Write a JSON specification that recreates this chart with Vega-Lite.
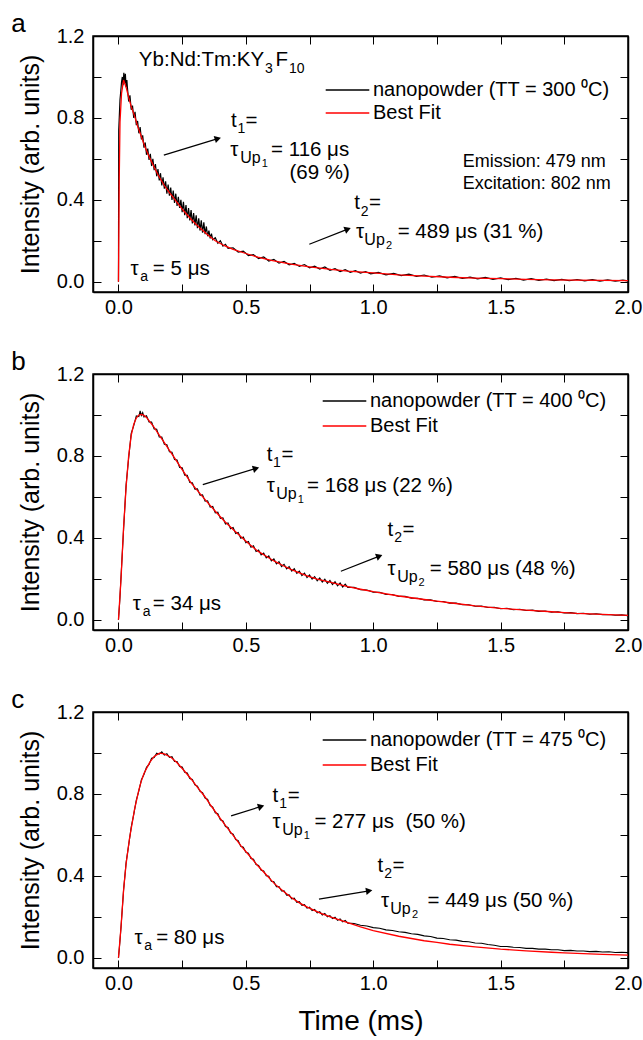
{
"$schema": "https://vega.github.io/schema/vega-lite/v6.json",
"padding": {"left": 10, "top": 10, "right": 0, "bottom": 0},
"spacing": 30,
"resolve": {"scale": {"color": "independent", "x": "independent", "y": "independent"}, "legend": {"color": "independent"}},
"config": {
  "font": "Liberation Sans",
  "view": {"stroke": "black", "strokeWidth": 1.5},
  "axis": {"grid": false, "domainColor": "black", "domainWidth": 1.5, "tickColor": "black", "tickWidth": 1, "tickSize": -8, "labelColor": "black", "labelFontSize": 20, "labelFont": "Liberation Sans", "labelFlush": false, "labelOverlap": false, "titleColor": "black", "titleFontWeight": "normal", "titleFont": "Liberation Sans"},
  "legend": {"symbolType": "stroke", "symbolSize": 1900, "symbolStrokeWidth": 1.3, "labelFontSize": 20, "labelFont": "Liberation Sans", "labelColor": "black", "clipHeight": 22, "rowPadding": 2, "labelOffset": 3, "padding": 0, "labelLimit": 400},
  "title": {"fontSize": 26, "fontWeight": "normal", "anchor": "start", "frame": "bounds", "color": "black", "font": "Liberation Sans", "dx": -7, "offset": -11},
  "text": {"font": "Liberation Sans", "color": "black"}
},
"datasets": {
  "aMeasured": [
{"time":0,"intensity":0},{"time":0.001,"intensity":0.74},{"time":0.003,"intensity":0.8},{"time":0.006,"intensity":0.89},{"time":0.009,"intensity":0.93},{"time":0.012,"intensity":0.975},{"time":0.015,"intensity":1.0},{"time":0.018,"intensity":0.96},{"time":0.021,"intensity":1.02},{"time":0.024,"intensity":0.97},{"time":0.027,"intensity":1.015},{"time":0.03,"intensity":0.95},{"time":0.033,"intensity":0.985},{"time":0.035,"intensity":0.95},
{"time":0.04,"intensity":0.88},{"time":0.045,"intensity":0.91},{"time":0.05,"intensity":0.84},{"time":0.055,"intensity":0.86},{"time":0.06,"intensity":0.8},{"time":0.065,"intensity":0.83},{"time":0.07,"intensity":0.765},{"time":0.075,"intensity":0.785},{"time":0.08,"intensity":0.725},{"time":0.085,"intensity":0.755},{"time":0.09,"intensity":0.695},{"time":0.095,"intensity":0.715},{"time":0.1,"intensity":0.655},{"time":0.105,"intensity":0.68},{"time":0.11,"intensity":0.62},{"time":0.115,"intensity":0.65},{"time":0.12,"intensity":0.595},{"time":0.125,"intensity":0.625},{"time":0.13,"intensity":0.565},{"time":0.135,"intensity":0.6},{"time":0.14,"intensity":0.545},{"time":0.145,"intensity":0.575},{"time":0.15,"intensity":0.515},{"time":0.155,"intensity":0.55},{"time":0.16,"intensity":0.495},{"time":0.165,"intensity":0.53},{"time":0.17,"intensity":0.47},{"time":0.175,"intensity":0.51},{"time":0.18,"intensity":0.455},{"time":0.185,"intensity":0.49},{"time":0.19,"intensity":0.43},{"time":0.195,"intensity":0.475},{"time":0.2,"intensity":0.42},{"time":0.205,"intensity":0.46},{"time":0.21,"intensity":0.4},{"time":0.215,"intensity":0.445},{"time":0.22,"intensity":0.385},{"time":0.225,"intensity":0.43},{"time":0.23,"intensity":0.37},{"time":0.235,"intensity":0.415},{"time":0.24,"intensity":0.36},{"time":0.245,"intensity":0.4},{"time":0.25,"intensity":0.34},{"time":0.255,"intensity":0.39},{"time":0.26,"intensity":0.325},{"time":0.265,"intensity":0.375},{"time":0.27,"intensity":0.31},{"time":0.275,"intensity":0.36},{"time":0.28,"intensity":0.3},{"time":0.285,"intensity":0.35},{"time":0.29,"intensity":0.285},{"time":0.295,"intensity":0.335},{"time":0.3,"intensity":0.275},{"time":0.305,"intensity":0.325},{"time":0.31,"intensity":0.262},{"time":0.315,"intensity":0.31},{"time":0.32,"intensity":0.25},{"time":0.325,"intensity":0.3},{"time":0.33,"intensity":0.24},{"time":0.335,"intensity":0.29},{"time":0.34,"intensity":0.232},{"time":0.345,"intensity":0.27},{"time":0.35,"intensity":0.222},{"time":0.355,"intensity":0.25},{"time":0.36,"intensity":0.212},{"time":0.365,"intensity":0.235},{"time":0.37,"intensity":0.205},
{"time":0.38,"intensity":0.215},{"time":0.39,"intensity":0.188},{"time":0.4,"intensity":0.2},{"time":0.41,"intensity":0.174},{"time":0.42,"intensity":0.183},{"time":0.43,"intensity":0.163},{"time":0.45,"intensity":0.166},{"time":0.47,"intensity":0.145},{"time":0.49,"intensity":0.15},{"time":0.51,"intensity":0.128},{"time":0.53,"intensity":0.132},{"time":0.55,"intensity":0.113},{"time":0.57,"intensity":0.121},{"time":0.59,"intensity":0.101},{"time":0.61,"intensity":0.109},{"time":0.63,"intensity":0.091},{"time":0.65,"intensity":0.099},{"time":0.67,"intensity":0.083},{"time":0.69,"intensity":0.09},{"time":0.71,"intensity":0.075},{"time":0.73,"intensity":0.084},{"time":0.75,"intensity":0.068},{"time":0.77,"intensity":0.076},{"time":0.79,"intensity":0.062},{"time":0.81,"intensity":0.072},{"time":0.83,"intensity":0.056},{"time":0.85,"intensity":0.064},{"time":0.87,"intensity":0.05},{"time":0.89,"intensity":0.059},{"time":0.91,"intensity":0.046},{"time":0.93,"intensity":0.054},{"time":0.95,"intensity":0.042},{"time":0.97,"intensity":0.05},{"time":0.99,"intensity":0.039},{"time":1.02,"intensity":0.046},{"time":1.05,"intensity":0.034},{"time":1.08,"intensity":0.041},{"time":1.11,"intensity":0.03},{"time":1.14,"intensity":0.037},{"time":1.17,"intensity":0.026},{"time":1.2,"intensity":0.033},{"time":1.23,"intensity":0.022},{"time":1.26,"intensity":0.029},{"time":1.29,"intensity":0.019},{"time":1.32,"intensity":0.026},{"time":1.35,"intensity":0.016},{"time":1.38,"intensity":0.023},{"time":1.41,"intensity":0.014},{"time":1.44,"intensity":0.021},{"time":1.47,"intensity":0.012},{"time":1.5,"intensity":0.019},{"time":1.53,"intensity":0.01},{"time":1.56,"intensity":0.017},{"time":1.59,"intensity":0.008},{"time":1.62,"intensity":0.015},{"time":1.65,"intensity":0.007},{"time":1.68,"intensity":0.013},{"time":1.71,"intensity":0.006},{"time":1.74,"intensity":0.012},{"time":1.77,"intensity":0.005},{"time":1.8,"intensity":0.011},{"time":1.83,"intensity":0.004},{"time":1.86,"intensity":0.01},{"time":1.89,"intensity":0.003},{"time":1.92,"intensity":0.009},{"time":1.95,"intensity":0.003},{"time":1.98,"intensity":0.008},{"time":2.0,"intensity":0.004}
  ],
  "aFit": [
{"time":0,"intensity":0},{"time":0.003,"intensity":0.5},{"time":0.006,"intensity":0.78},{"time":0.012,"intensity":0.92},{"time":0.02,"intensity":0.985},{"time":0.03,"intensity":0.95},{"time":0.04,"intensity":0.9},{"time":0.05,"intensity":0.855},{"time":0.063,"intensity":0.81},{"time":0.075,"intensity":0.76},{"time":0.089,"intensity":0.712},{"time":0.105,"intensity":0.655},{"time":0.122,"intensity":0.606},{"time":0.14,"intensity":0.56},{"time":0.154,"intensity":0.525},{"time":0.18,"intensity":0.47},{"time":0.2,"intensity":0.435},{"time":0.22,"intensity":0.403},{"time":0.25,"intensity":0.355},{"time":0.285,"intensity":0.305},{"time":0.32,"intensity":0.262},{"time":0.351,"intensity":0.228},{"time":0.38,"intensity":0.2},{"time":0.416,"intensity":0.176},{"time":0.45,"intensity":0.158},{"time":0.5,"intensity":0.138},{"time":0.547,"intensity":0.12},{"time":0.6,"intensity":0.104},{"time":0.677,"intensity":0.086},{"time":0.75,"intensity":0.073},{"time":0.834,"intensity":0.06},{"time":0.9,"intensity":0.052},{"time":1.0,"intensity":0.043},{"time":1.1,"intensity":0.034},{"time":1.2,"intensity":0.028},{"time":1.3,"intensity":0.022},{"time":1.4,"intensity":0.018},{"time":1.5,"intensity":0.015},{"time":1.6,"intensity":0.012},{"time":1.7,"intensity":0.0095},{"time":1.8,"intensity":0.0078},{"time":1.9,"intensity":0.0063},{"time":2.0,"intensity":0.0052}
  ],
  "bMeasured": [
{"time":0,"intensity":0},{"time":0.005,"intensity":0.09},{"time":0.01,"intensity":0.21},{"time":0.02,"intensity":0.44},{"time":0.03,"intensity":0.66},{"time":0.04,"intensity":0.79},{"time":0.05,"intensity":0.91},{"time":0.06,"intensity":0.948},{"time":0.07,"intensity":0.995},{"time":0.08,"intensity":0.992},{"time":0.085,"intensity":1.02},{"time":0.09,"intensity":0.998},{"time":0.095,"intensity":1.012},{"time":0.1,"intensity":0.99},{"time":0.11,"intensity":0.996},{"time":0.12,"intensity":0.966},{"time":0.13,"intensity":0.965},{"time":0.14,"intensity":0.932},{"time":0.15,"intensity":0.93},{"time":0.16,"intensity":0.893},{"time":0.17,"intensity":0.892},{"time":0.18,"intensity":0.857},{"time":0.19,"intensity":0.855},{"time":0.2,"intensity":0.82},{"time":0.21,"intensity":0.818},{"time":0.22,"intensity":0.782},{"time":0.23,"intensity":0.78},{"time":0.24,"intensity":0.744},{"time":0.25,"intensity":0.742},{"time":0.26,"intensity":0.706},{"time":0.27,"intensity":0.705},{"time":0.28,"intensity":0.67},{"time":0.29,"intensity":0.669},{"time":0.3,"intensity":0.638},{"time":0.31,"intensity":0.639},{"time":0.32,"intensity":0.608},{"time":0.33,"intensity":0.61},{"time":0.34,"intensity":0.579},{"time":0.35,"intensity":0.581},{"time":0.36,"intensity":0.55},{"time":0.37,"intensity":0.553},{"time":0.38,"intensity":0.522},{"time":0.39,"intensity":0.525},{"time":0.4,"intensity":0.495},{"time":0.41,"intensity":0.498},{"time":0.42,"intensity":0.468},{"time":0.43,"intensity":0.473},{"time":0.44,"intensity":0.444},{"time":0.45,"intensity":0.45},{"time":0.46,"intensity":0.421},{"time":0.47,"intensity":0.426},{"time":0.48,"intensity":0.398},{"time":0.49,"intensity":0.404},{"time":0.5,"intensity":0.376},{"time":0.51,"intensity":0.382},{"time":0.52,"intensity":0.354},{"time":0.53,"intensity":0.361},{"time":0.54,"intensity":0.334},{"time":0.55,"intensity":0.341},{"time":0.56,"intensity":0.317},{"time":0.57,"intensity":0.326},{"time":0.58,"intensity":0.302},{"time":0.59,"intensity":0.312},{"time":0.6,"intensity":0.287},{"time":0.61,"intensity":0.297},{"time":0.62,"intensity":0.273},{"time":0.63,"intensity":0.284},{"time":0.64,"intensity":0.26},{"time":0.65,"intensity":0.271},{"time":0.66,"intensity":0.249},{"time":0.67,"intensity":0.26},{"time":0.68,"intensity":0.237},{"time":0.69,"intensity":0.249},{"time":0.7,"intensity":0.226},{"time":0.71,"intensity":0.238},{"time":0.72,"intensity":0.216},{"time":0.73,"intensity":0.228},{"time":0.74,"intensity":0.206},{"time":0.75,"intensity":0.219},{"time":0.76,"intensity":0.198},{"time":0.77,"intensity":0.211},{"time":0.78,"intensity":0.19},{"time":0.79,"intensity":0.204},{"time":0.8,"intensity":0.184},{"time":0.81,"intensity":0.198},{"time":0.82,"intensity":0.178},{"time":0.83,"intensity":0.192},{"time":0.84,"intensity":0.172},{"time":0.85,"intensity":0.186},{"time":0.86,"intensity":0.166},{"time":0.87,"intensity":0.18},{"time":0.88,"intensity":0.16},{"time":0.89,"intensity":0.174},{"time":0.9,"intensity":0.158},
{"time":0.925,"intensity":0.158},{"time":0.95,"intensity":0.147},{"time":0.975,"intensity":0.145},{"time":1.0,"intensity":0.135},{"time":1.025,"intensity":0.134},{"time":1.05,"intensity":0.124},{"time":1.075,"intensity":0.123},{"time":1.1,"intensity":0.114},{"time":1.125,"intensity":0.114},{"time":1.15,"intensity":0.105},{"time":1.175,"intensity":0.105},{"time":1.2,"intensity":0.097},{"time":1.225,"intensity":0.097},{"time":1.25,"intensity":0.089},{"time":1.275,"intensity":0.089},{"time":1.3,"intensity":0.081},{"time":1.325,"intensity":0.081},{"time":1.35,"intensity":0.073},{"time":1.375,"intensity":0.073},{"time":1.4,"intensity":0.066},{"time":1.425,"intensity":0.067},{"time":1.45,"intensity":0.06},{"time":1.475,"intensity":0.061},{"time":1.5,"intensity":0.054},{"time":1.525,"intensity":0.056},{"time":1.55,"intensity":0.049},{"time":1.575,"intensity":0.051},{"time":1.6,"intensity":0.045},{"time":1.625,"intensity":0.047},{"time":1.65,"intensity":0.041},{"time":1.675,"intensity":0.043},{"time":1.7,"intensity":0.037},{"time":1.725,"intensity":0.039},{"time":1.75,"intensity":0.033},{"time":1.775,"intensity":0.035},{"time":1.8,"intensity":0.03},{"time":1.825,"intensity":0.032},{"time":1.85,"intensity":0.027},{"time":1.875,"intensity":0.029},{"time":1.9,"intensity":0.025},{"time":1.925,"intensity":0.026},{"time":1.95,"intensity":0.022},{"time":1.975,"intensity":0.024},{"time":2.0,"intensity":0.02}
  ],
  "bFit": [
{"time":0,"intensity":0},{"time":0.01,"intensity":0.2},{"time":0.02,"intensity":0.45},{"time":0.03,"intensity":0.65},{"time":0.04,"intensity":0.8},{"time":0.05,"intensity":0.9},{"time":0.06,"intensity":0.955},{"time":0.07,"intensity":0.985},{"time":0.08,"intensity":1.0},{"time":0.09,"intensity":1.003},{"time":0.1,"intensity":0.998},{"time":0.11,"intensity":0.988},{"time":0.122,"intensity":0.969},{"time":0.14,"intensity":0.94},{"time":0.154,"intensity":0.912},{"time":0.18,"intensity":0.865},{"time":0.2,"intensity":0.827},{"time":0.22,"intensity":0.79},{"time":0.25,"intensity":0.733},{"time":0.285,"intensity":0.668},{"time":0.32,"intensity":0.616},{"time":0.351,"intensity":0.571},{"time":0.38,"intensity":0.53},{"time":0.416,"intensity":0.481},{"time":0.45,"intensity":0.441},{"time":0.481,"intensity":0.405},{"time":0.515,"intensity":0.368},{"time":0.547,"intensity":0.335},{"time":0.58,"intensity":0.31},{"time":0.612,"intensity":0.286},{"time":0.645,"intensity":0.265},{"time":0.677,"intensity":0.246},{"time":0.71,"intensity":0.229},{"time":0.743,"intensity":0.213},{"time":0.78,"intensity":0.198},{"time":0.834,"intensity":0.182},{"time":0.9,"intensity":0.162},{"time":0.95,"intensity":0.149},{"time":1.0,"intensity":0.137},{"time":1.1,"intensity":0.116},{"time":1.2,"intensity":0.099},{"time":1.25,"intensity":0.091},{"time":1.3,"intensity":0.083},{"time":1.4,"intensity":0.068},{"time":1.5,"intensity":0.056},{"time":1.6,"intensity":0.047},{"time":1.7,"intensity":0.039},{"time":1.75,"intensity":0.035},{"time":1.8,"intensity":0.031},{"time":1.9,"intensity":0.026},{"time":2.0,"intensity":0.021}
  ],
  "cMeasured": [
{"time":0,"intensity":0},{"time":0.005,"intensity":0.07},{"time":0.01,"intensity":0.15},{"time":0.02,"intensity":0.33},{"time":0.03,"intensity":0.465},{"time":0.04,"intensity":0.55},{"time":0.05,"intensity":0.638},{"time":0.06,"intensity":0.7},{"time":0.07,"intensity":0.77},{"time":0.08,"intensity":0.815},{"time":0.09,"intensity":0.869},{"time":0.1,"intensity":0.895},{"time":0.11,"intensity":0.93},{"time":0.12,"intensity":0.944},{"time":0.13,"intensity":0.974},{"time":0.14,"intensity":0.978},{"time":0.15,"intensity":0.999},{"time":0.16,"intensity":0.994},{"time":0.17,"intensity":1.006},{"time":0.18,"intensity":0.99},{"time":0.19,"intensity":0.996},{"time":0.2,"intensity":0.978},{"time":0.21,"intensity":0.982},{"time":0.22,"intensity":0.958},{"time":0.23,"intensity":0.958},{"time":0.24,"intensity":0.934},{"time":0.25,"intensity":0.931},{"time":0.26,"intensity":0.906},{"time":0.27,"intensity":0.902},{"time":0.28,"intensity":0.875},{"time":0.29,"intensity":0.871},{"time":0.3,"intensity":0.844},{"time":0.31,"intensity":0.838},{"time":0.32,"intensity":0.812},{"time":0.33,"intensity":0.806},{"time":0.34,"intensity":0.78},{"time":0.35,"intensity":0.773},{"time":0.36,"intensity":0.743},{"time":0.37,"intensity":0.736},{"time":0.38,"intensity":0.708},{"time":0.39,"intensity":0.703},{"time":0.4,"intensity":0.674},{"time":0.41,"intensity":0.668},{"time":0.42,"intensity":0.641},{"time":0.43,"intensity":0.636},{"time":0.44,"intensity":0.609},{"time":0.45,"intensity":0.604},{"time":0.46,"intensity":0.577},{"time":0.47,"intensity":0.572},{"time":0.48,"intensity":0.544},{"time":0.49,"intensity":0.54},{"time":0.5,"intensity":0.515},{"time":0.51,"intensity":0.511},{"time":0.52,"intensity":0.485},{"time":0.53,"intensity":0.481},{"time":0.54,"intensity":0.455},{"time":0.55,"intensity":0.451},{"time":0.56,"intensity":0.427},{"time":0.57,"intensity":0.424},{"time":0.58,"intensity":0.4},{"time":0.59,"intensity":0.398},{"time":0.6,"intensity":0.373},{"time":0.61,"intensity":0.371},{"time":0.62,"intensity":0.347},{"time":0.63,"intensity":0.348},{"time":0.64,"intensity":0.326},{"time":0.65,"intensity":0.327},{"time":0.66,"intensity":0.306},{"time":0.67,"intensity":0.307},{"time":0.68,"intensity":0.288},{"time":0.69,"intensity":0.291},{"time":0.7,"intensity":0.271},{"time":0.71,"intensity":0.274},{"time":0.72,"intensity":0.256},{"time":0.73,"intensity":0.259},{"time":0.74,"intensity":0.242},{"time":0.75,"intensity":0.247},{"time":0.76,"intensity":0.23},{"time":0.77,"intensity":0.236},{"time":0.78,"intensity":0.219},{"time":0.79,"intensity":0.225},{"time":0.8,"intensity":0.209},{"time":0.81,"intensity":0.216},{"time":0.82,"intensity":0.2},{"time":0.83,"intensity":0.206},{"time":0.84,"intensity":0.191},{"time":0.85,"intensity":0.198},{"time":0.86,"intensity":0.183},{"time":0.87,"intensity":0.19},{"time":0.88,"intensity":0.175},{"time":0.89,"intensity":0.182},{"time":0.9,"intensity":0.169},
{"time":0.925,"intensity":0.167},{"time":0.95,"intensity":0.159},{"time":0.975,"intensity":0.155},{"time":1.0,"intensity":0.147},{"time":1.025,"intensity":0.144},{"time":1.05,"intensity":0.136},{"time":1.075,"intensity":0.133},{"time":1.1,"intensity":0.127},{"time":1.125,"intensity":0.124},{"time":1.15,"intensity":0.117},{"time":1.175,"intensity":0.114},{"time":1.2,"intensity":0.107},{"time":1.225,"intensity":0.104},{"time":1.25,"intensity":0.096},{"time":1.275,"intensity":0.094},{"time":1.3,"intensity":0.088},{"time":1.325,"intensity":0.086},{"time":1.35,"intensity":0.08},{"time":1.375,"intensity":0.078},{"time":1.4,"intensity":0.072},{"time":1.425,"intensity":0.071},{"time":1.45,"intensity":0.065},{"time":1.475,"intensity":0.061},{"time":1.5,"intensity":0.055},{"time":1.525,"intensity":0.055},{"time":1.55,"intensity":0.051},{"time":1.575,"intensity":0.05},{"time":1.6,"intensity":0.046},{"time":1.625,"intensity":0.046},{"time":1.65,"intensity":0.042},{"time":1.675,"intensity":0.042},{"time":1.7,"intensity":0.039},{"time":1.725,"intensity":0.039},{"time":1.75,"intensity":0.035},{"time":1.775,"intensity":0.036},{"time":1.8,"intensity":0.033},{"time":1.825,"intensity":0.033},{"time":1.85,"intensity":0.03},{"time":1.875,"intensity":0.031},{"time":1.9,"intensity":0.028},{"time":1.925,"intensity":0.029},{"time":1.95,"intensity":0.026},{"time":1.975,"intensity":0.027},{"time":2.0,"intensity":0.025}
  ],
  "cFit": [
{"time":0,"intensity":0},{"time":0.01,"intensity":0.15},{"time":0.02,"intensity":0.33},{"time":0.03,"intensity":0.46},{"time":0.043,"intensity":0.58},{"time":0.063,"intensity":0.725},{"time":0.08,"intensity":0.82},{"time":0.089,"intensity":0.86},{"time":0.1,"intensity":0.9},{"time":0.122,"intensity":0.953},{"time":0.14,"intensity":0.983},{"time":0.161,"intensity":0.999},{"time":0.18,"intensity":0.995},{"time":0.207,"intensity":0.978},{"time":0.23,"intensity":0.952},{"time":0.259,"intensity":0.912},{"time":0.285,"intensity":0.873},{"time":0.311,"intensity":0.831},{"time":0.34,"intensity":0.785},{"time":0.364,"intensity":0.741},{"time":0.39,"intensity":0.697},{"time":0.416,"intensity":0.652},{"time":0.45,"intensity":0.598},{"time":0.481,"intensity":0.546},{"time":0.515,"intensity":0.497},{"time":0.547,"intensity":0.449},{"time":0.58,"intensity":0.405},{"time":0.612,"intensity":0.362},{"time":0.645,"intensity":0.327},{"time":0.677,"intensity":0.295},{"time":0.71,"intensity":0.268},{"time":0.743,"intensity":0.246},{"time":0.79,"intensity":0.219},{"time":0.834,"intensity":0.198},{"time":0.9,"intensity":0.172},{"time":0.95,"intensity":0.151},{"time":1.0,"intensity":0.132},{"time":1.1,"intensity":0.105},{"time":1.2,"intensity":0.083},{"time":1.25,"intensity":0.075},{"time":1.3,"intensity":0.066},{"time":1.4,"intensity":0.053},{"time":1.5,"intensity":0.042},{"time":1.6,"intensity":0.034},{"time":1.7,"intensity":0.027},{"time":1.75,"intensity":0.024},{"time":1.8,"intensity":0.021},{"time":1.9,"intensity":0.017},{"time":2.0,"intensity":0.013}
  ],
  "texts": [
{"panel":"a","x":0.08,"y":1.054,"text":"Yb:Nd:Tm:KY"},
{"panel":"a","x":0.616,"y":1.054,"text":"F"},
{"panel":"a","x":0.442,"y":0.756,"text":"t"},
{"panel":"a","x":0.499,"y":0.756,"text":"="},
{"panel":"a","x":0.439,"y":0.615,"text":"τ"},
{"panel":"a","x":0.599,"y":0.615,"text":"= 116 μs"},
{"panel":"a","x":0.671,"y":0.501,"text":"(69 %)"},
{"panel":"a","x":0.925,"y":0.354,"text":"t"},
{"panel":"a","x":0.983,"y":0.354,"text":"="},
{"panel":"a","x":0.932,"y":0.214,"text":"τ"},
{"panel":"a","x":1.096,"y":0.214,"text":"= 489 μs (31 %)"},
{"panel":"a","x":0.047,"y":0.033,"text":"τ"},
{"panel":"a","x":0.135,"y":0.033,"text":"= 5 μs"},
{"panel":"b","x":0.582,"y":0.774,"text":"t"},
{"panel":"b","x":0.64,"y":0.774,"text":"="},
{"panel":"b","x":0.582,"y":0.623,"text":"τ"},
{"panel":"b","x":0.74,"y":0.623,"text":"= 168 μs (22 %)"},
{"panel":"b","x":1.056,"y":0.408,"text":"t"},
{"panel":"b","x":1.115,"y":0.408,"text":"="},
{"panel":"b","x":1.056,"y":0.218,"text":"τ"},
{"panel":"b","x":1.222,"y":0.218,"text":"= 580 μs (48 %)"},
{"panel":"b","x":0.056,"y":0.047,"text":"τ"},
{"panel":"b","x":0.135,"y":0.047,"text":"= 34 μs"},
{"panel":"c","x":0.605,"y":0.76,"text":"t"},
{"panel":"c","x":0.664,"y":0.76,"text":"="},
{"panel":"c","x":0.605,"y":0.633,"text":"τ"},
{"panel":"c","x":0.769,"y":0.633,"text":"= 277 μs \u00a0(50 %)"},
{"panel":"c","x":1.017,"y":0.417,"text":"t"},
{"panel":"c","x":1.076,"y":0.417,"text":"="},
{"panel":"c","x":1.03,"y":0.247,"text":"τ"},
{"panel":"c","x":1.213,"y":0.247,"text":"= 449 μs (50 %)"},
{"panel":"c","x":0.063,"y":0.067,"text":"τ"},
{"panel":"c","x":0.148,"y":0.067,"text":"= 80 μs"}
  ],
  "subs": [
{"panel":"a","x":0.575,"y":1.021,"text":"3"},
{"panel":"a","x":0.669,"y":1.021,"text":"10"},
{"panel":"a","x":0.467,"y":0.726,"text":"1"},
{"panel":"a","x":0.951,"y":0.323,"text":"2"},
{"panel":"a","x":0.085,"y":0.006,"text":"a"},
{"panel":"b","x":0.607,"y":0.745,"text":"1"},
{"panel":"b","x":1.082,"y":0.379,"text":"2"},
{"panel":"b","x":0.095,"y":0.018,"text":"a"},
{"panel":"c","x":0.631,"y":0.73,"text":"1"},
{"panel":"c","x":1.043,"y":0.388,"text":"2"},
{"panel":"c","x":0.101,"y":0.038,"text":"a"}
  ],
  "ups": [
{"panel":"a","x":0.478,"y":0.58,"text":"Up"},
{"panel":"a","x":0.965,"y":0.179,"text":"Up"},
{"panel":"b","x":0.619,"y":0.589,"text":"Up"},
{"panel":"b","x":1.094,"y":0.184,"text":"Up"},
{"panel":"c","x":0.643,"y":0.599,"text":"Up"},
{"panel":"c","x":1.067,"y":0.213,"text":"Up"}
  ],
  "subsubs": [
{"panel":"a","x":0.562,"y":0.561,"text":"1"},
{"panel":"a","x":1.05,"y":0.16,"text":"2"},
{"panel":"b","x":0.704,"y":0.569,"text":"1"},
{"panel":"b","x":1.178,"y":0.164,"text":"2"},
{"panel":"c","x":0.727,"y":0.58,"text":"1"},
{"panel":"c","x":1.152,"y":0.194,"text":"2"}
  ],
  "notes": [
{"panel":"a","x":1.351,"y":0.558,"text":"Emission: 479 nm"},
{"panel":"a","x":1.351,"y":0.452,"text":"Excitation: 802 nm"}
  ],
  "arrows": [
{"panel":"a","x":0.178,"y":0.618,"x2":0.39,"y2":0.699},
{"panel":"a","x":0.749,"y":0.183,"x2":0.9,"y2":0.257},
{"panel":"b","x":0.331,"y":0.66,"x2":0.54,"y2":0.739},
{"panel":"b","x":0.873,"y":0.237,"x2":1.024,"y2":0.311},
{"panel":"c","x":0.442,"y":0.693,"x2":0.56,"y2":0.739},
{"panel":"c","x":0.787,"y":0.286,"x2":0.984,"y2":0.327}
  ]
},
"vconcat": [
{
  "width": 535, "height": 256,
  "title": {"text": "a"},
  "layer": [
    {"data": {"name": "aMeasured"}, "mark": {"type": "line", "strokeWidth": 1.2},
     "encoding": {
       "x": {"field": "time", "type": "quantitative", "scale": {"domain": [-0.1, 2], "nice": false, "zero": false},
             "axis": {"orient": "bottom", "values": [0,0.25,0.5,0.75,1,1.25,1.5,1.75,2], "labelExpr": "datum.value % 0.5 == 0 ? format(datum.value, '.1f') : ''", "labelPadding": 13, "title": null}},
       "y": {"field": "intensity", "type": "quantitative", "scale": {"domain": [-0.05, 1.2], "nice": false, "zero": false},
             "axis": {"orient": "left", "values": [0,0.2,0.4,0.6,0.8,1,1.2], "labelExpr": "round(datum.value*10) % 4 == 0 ? format(datum.value, '.1f') : ''", "labelPadding": 17, "title": "Intensity (arb. units)", "titleFontSize": 25, "titlePadding": 13}},
       "color": {"datum": "measured", "scale": {"domain": ["measured", "fit"], "range": ["#000000", "#ff0000"]},
                 "legend": {"orient": "none", "legendX": 232, "legendY": 43, "title": null, "rowPadding": 1, "labelExpr": "datum.label == 'measured' ? 'nanopowder (TT = 300 ⁰C)' : 'Best Fit'"}}
     }},
    {"data": {"name": "aFit"}, "mark": {"type": "line", "strokeWidth": 1.3},
     "encoding": {"x": {"field": "time", "type": "quantitative", "axis": null}, "y": {"field": "intensity", "type": "quantitative", "axis": null}, "color": {"datum": "fit"}}},
    {"data": {"name": "arrows"}, "transform": [{"filter": "datum.panel == 'a'"}], "mark": {"type": "rule", "color": "black", "strokeWidth": 1.2},
     "encoding": {
       "x": {"field": "x", "type": "quantitative", "axis": {"orient": "top", "values": [0,0.25,0.5,0.75,1,1.25,1.5,1.75,2], "labels": false, "title": null}},
       "y": {"field": "y", "type": "quantitative", "axis": {"orient": "right", "values": [0,0.2,0.4,0.6,0.8,1,1.2], "labels": false, "title": null}},
       "x2": {"field": "x2"}, "y2": {"field": "y2"}}},
    {"data": {"name": "arrows"}, "transform": [{"filter": "datum.panel == 'a'"}, {"calculate": "atan2(-(datum.y2 - datum.y) * 205, (datum.x2 - datum.x) * 255) * 180 / PI", "as": "angle"}],
     "mark": {"type": "point", "shape": "triangle-right", "filled": true, "color": "black", "size": 55, "opacity": 1},
     "encoding": {"x": {"field": "x2", "type": "quantitative", "axis": null}, "y": {"field": "y2", "type": "quantitative", "axis": null}, "angle": {"field": "angle", "type": "quantitative", "scale": null}}},
    {"data": {"name": "texts"}, "transform": [{"filter": "datum.panel == 'a'"}], "mark": {"type": "text", "align": "left", "baseline": "alphabetic", "fontSize": 20.5},
     "encoding": {"x": {"field": "x", "type": "quantitative", "axis": null}, "y": {"field": "y", "type": "quantitative", "axis": null}, "text": {"field": "text"}}},
    {"data": {"name": "subs"}, "transform": [{"filter": "datum.panel == 'a'"}], "mark": {"type": "text", "align": "left", "baseline": "alphabetic", "fontSize": 14},
     "encoding": {"x": {"field": "x", "type": "quantitative", "axis": null}, "y": {"field": "y", "type": "quantitative", "axis": null}, "text": {"field": "text"}}},
    {"data": {"name": "ups"}, "transform": [{"filter": "datum.panel == 'a'"}], "mark": {"type": "text", "align": "left", "baseline": "alphabetic", "fontSize": 16},
     "encoding": {"x": {"field": "x", "type": "quantitative", "axis": null}, "y": {"field": "y", "type": "quantitative", "axis": null}, "text": {"field": "text"}}},
    {"data": {"name": "subsubs"}, "transform": [{"filter": "datum.panel == 'a'"}], "mark": {"type": "text", "align": "left", "baseline": "alphabetic", "fontSize": 11},
     "encoding": {"x": {"field": "x", "type": "quantitative", "axis": null}, "y": {"field": "y", "type": "quantitative", "axis": null}, "text": {"field": "text"}}},
    {"data": {"name": "notes"}, "transform": [{"filter": "datum.panel == 'a'"}], "mark": {"type": "text", "align": "left", "baseline": "alphabetic", "fontSize": 18},
     "encoding": {"x": {"field": "x", "type": "quantitative", "axis": null}, "y": {"field": "y", "type": "quantitative", "axis": null}, "text": {"field": "text"}}}
  ]
},
{
  "width": 535, "height": 256,
  "title": {"text": "b"},
  "layer": [
    {"data": {"name": "bMeasured"}, "mark": {"type": "line", "strokeWidth": 1.1},
     "encoding": {
       "x": {"field": "time", "type": "quantitative", "scale": {"domain": [-0.1, 2], "nice": false, "zero": false},
             "axis": {"orient": "bottom", "values": [0,0.25,0.5,0.75,1,1.25,1.5,1.75,2], "labelExpr": "datum.value % 0.5 == 0 ? format(datum.value, '.1f') : ''", "labelPadding": 13, "title": null}},
       "y": {"field": "intensity", "type": "quantitative", "scale": {"domain": [-0.05, 1.2], "nice": false, "zero": false},
             "axis": {"orient": "left", "values": [0,0.2,0.4,0.6,0.8,1,1.2], "labelExpr": "round(datum.value*10) % 4 == 0 ? format(datum.value, '.1f') : ''", "labelPadding": 17, "title": "Intensity (arb. units)", "titleFontSize": 25, "titlePadding": 13}},
       "color": {"datum": "measured", "scale": {"domain": ["measured", "fit"], "range": ["#000000", "#ff0000"]},
                 "legend": {"orient": "none", "legendX": 229, "legendY": 16, "title": null, "rowPadding": 3, "labelExpr": "datum.label == 'measured' ? 'nanopowder (TT = 400 ⁰C)' : 'Best Fit'"}}
     }},
    {"data": {"name": "bFit"}, "mark": {"type": "line", "strokeWidth": 1.3},
     "encoding": {"x": {"field": "time", "type": "quantitative", "axis": null}, "y": {"field": "intensity", "type": "quantitative", "axis": null}, "color": {"datum": "fit"}}},
    {"data": {"name": "arrows"}, "transform": [{"filter": "datum.panel == 'b'"}], "mark": {"type": "rule", "color": "black", "strokeWidth": 1.2},
     "encoding": {
       "x": {"field": "x", "type": "quantitative", "axis": {"orient": "top", "values": [0,0.25,0.5,0.75,1,1.25,1.5,1.75,2], "labels": false, "title": null}},
       "y": {"field": "y", "type": "quantitative", "axis": {"orient": "right", "values": [0,0.2,0.4,0.6,0.8,1,1.2], "labels": false, "title": null}},
       "x2": {"field": "x2"}, "y2": {"field": "y2"}}},
    {"data": {"name": "arrows"}, "transform": [{"filter": "datum.panel == 'b'"}, {"calculate": "atan2(-(datum.y2 - datum.y) * 205, (datum.x2 - datum.x) * 255) * 180 / PI", "as": "angle"}],
     "mark": {"type": "point", "shape": "triangle-right", "filled": true, "color": "black", "size": 55, "opacity": 1},
     "encoding": {"x": {"field": "x2", "type": "quantitative", "axis": null}, "y": {"field": "y2", "type": "quantitative", "axis": null}, "angle": {"field": "angle", "type": "quantitative", "scale": null}}},
    {"data": {"name": "texts"}, "transform": [{"filter": "datum.panel == 'b'"}], "mark": {"type": "text", "align": "left", "baseline": "alphabetic", "fontSize": 20.5},
     "encoding": {"x": {"field": "x", "type": "quantitative", "axis": null}, "y": {"field": "y", "type": "quantitative", "axis": null}, "text": {"field": "text"}}},
    {"data": {"name": "subs"}, "transform": [{"filter": "datum.panel == 'b'"}], "mark": {"type": "text", "align": "left", "baseline": "alphabetic", "fontSize": 14},
     "encoding": {"x": {"field": "x", "type": "quantitative", "axis": null}, "y": {"field": "y", "type": "quantitative", "axis": null}, "text": {"field": "text"}}},
    {"data": {"name": "ups"}, "transform": [{"filter": "datum.panel == 'b'"}], "mark": {"type": "text", "align": "left", "baseline": "alphabetic", "fontSize": 16},
     "encoding": {"x": {"field": "x", "type": "quantitative", "axis": null}, "y": {"field": "y", "type": "quantitative", "axis": null}, "text": {"field": "text"}}},
    {"data": {"name": "subsubs"}, "transform": [{"filter": "datum.panel == 'b'"}], "mark": {"type": "text", "align": "left", "baseline": "alphabetic", "fontSize": 11},
     "encoding": {"x": {"field": "x", "type": "quantitative", "axis": null}, "y": {"field": "y", "type": "quantitative", "axis": null}, "text": {"field": "text"}}}
  ]
},
{
  "width": 535, "height": 256,
  "title": {"text": "c"},
  "layer": [
    {"data": {"name": "cMeasured"}, "mark": {"type": "line", "strokeWidth": 1.1},
     "encoding": {
       "x": {"field": "time", "type": "quantitative", "scale": {"domain": [-0.1, 2], "nice": false, "zero": false},
             "axis": {"orient": "bottom", "values": [0,0.25,0.5,0.75,1,1.25,1.5,1.75,2], "labelExpr": "datum.value % 0.5 == 0 ? format(datum.value, '.1f') : ''", "labelPadding": 13, "title": "Time (ms)", "titleFontSize": 28, "titlePadding": 14}},
       "y": {"field": "intensity", "type": "quantitative", "scale": {"domain": [-0.05, 1.2], "nice": false, "zero": false},
             "axis": {"orient": "left", "values": [0,0.2,0.4,0.6,0.8,1,1.2], "labelExpr": "round(datum.value*10) % 4 == 0 ? format(datum.value, '.1f') : ''", "labelPadding": 17, "title": "Intensity (arb. units)", "titleFontSize": 25, "titlePadding": 13}},
       "color": {"datum": "measured", "scale": {"domain": ["measured", "fit"], "range": ["#000000", "#ff0000"]},
                 "legend": {"orient": "none", "legendX": 229, "legendY": 17, "title": null, "rowPadding": 3, "labelExpr": "datum.label == 'measured' ? 'nanopowder (TT = 475 ⁰C)' : 'Best Fit'"}}
     }},
    {"data": {"name": "cFit"}, "mark": {"type": "line", "strokeWidth": 1.3},
     "encoding": {"x": {"field": "time", "type": "quantitative", "axis": null}, "y": {"field": "intensity", "type": "quantitative", "axis": null}, "color": {"datum": "fit"}}},
    {"data": {"name": "arrows"}, "transform": [{"filter": "datum.panel == 'c'"}], "mark": {"type": "rule", "color": "black", "strokeWidth": 1.2},
     "encoding": {
       "x": {"field": "x", "type": "quantitative", "axis": {"orient": "top", "values": [0,0.25,0.5,0.75,1,1.25,1.5,1.75,2], "labels": false, "title": null}},
       "y": {"field": "y", "type": "quantitative", "axis": {"orient": "right", "values": [0,0.2,0.4,0.6,0.8,1,1.2], "labels": false, "title": null}},
       "x2": {"field": "x2"}, "y2": {"field": "y2"}}},
    {"data": {"name": "arrows"}, "transform": [{"filter": "datum.panel == 'c'"}, {"calculate": "atan2(-(datum.y2 - datum.y) * 205, (datum.x2 - datum.x) * 255) * 180 / PI", "as": "angle"}],
     "mark": {"type": "point", "shape": "triangle-right", "filled": true, "color": "black", "size": 55, "opacity": 1},
     "encoding": {"x": {"field": "x2", "type": "quantitative", "axis": null}, "y": {"field": "y2", "type": "quantitative", "axis": null}, "angle": {"field": "angle", "type": "quantitative", "scale": null}}},
    {"data": {"name": "texts"}, "transform": [{"filter": "datum.panel == 'c'"}], "mark": {"type": "text", "align": "left", "baseline": "alphabetic", "fontSize": 20.5},
     "encoding": {"x": {"field": "x", "type": "quantitative", "axis": null}, "y": {"field": "y", "type": "quantitative", "axis": null}, "text": {"field": "text"}}},
    {"data": {"name": "subs"}, "transform": [{"filter": "datum.panel == 'c'"}], "mark": {"type": "text", "align": "left", "baseline": "alphabetic", "fontSize": 14},
     "encoding": {"x": {"field": "x", "type": "quantitative", "axis": null}, "y": {"field": "y", "type": "quantitative", "axis": null}, "text": {"field": "text"}}},
    {"data": {"name": "ups"}, "transform": [{"filter": "datum.panel == 'c'"}], "mark": {"type": "text", "align": "left", "baseline": "alphabetic", "fontSize": 16},
     "encoding": {"x": {"field": "x", "type": "quantitative", "axis": null}, "y": {"field": "y", "type": "quantitative", "axis": null}, "text": {"field": "text"}}},
    {"data": {"name": "subsubs"}, "transform": [{"filter": "datum.panel == 'c'"}], "mark": {"type": "text", "align": "left", "baseline": "alphabetic", "fontSize": 11},
     "encoding": {"x": {"field": "x", "type": "quantitative", "axis": null}, "y": {"field": "y", "type": "quantitative", "axis": null}, "text": {"field": "text"}}}
  ]
}
]
}
